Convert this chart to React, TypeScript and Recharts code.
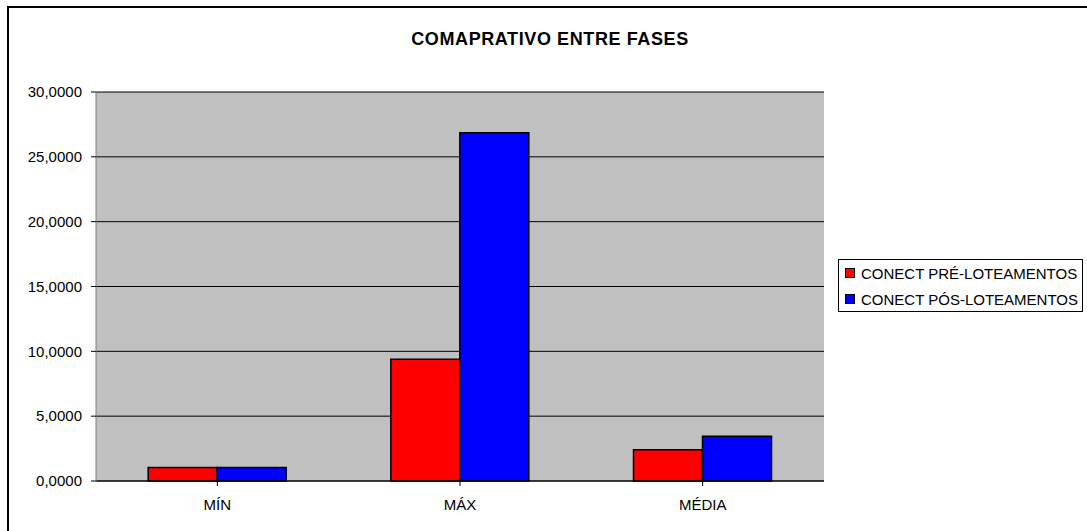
import { BarChart, Bar, XAxis, YAxis, CartesianGrid } from "recharts";

const categories = ["MÍN", "MÁX", "MÉDIA"];
const preLoteamentos = [1.05, 9.38, 2.41];
const posLoteamentos = [1.05, 26.86, 3.45];
const yTicks = [0, 5, 10, 15, 20, 25, 30];

const data = categories.map((c, i) => ({
  name: c,
  pre: preLoteamentos[i],
  pos: posLoteamentos[i],
}));

const FONT = "Arial, 'Liberation Sans', sans-serif";

const fmt = (v: number) => v.toFixed(4).replace(".", ",");

function LegendBox() {
  const items = [
    { label: "CONECT PRÉ-LOTEAMENTOS", color: "#FF0000" },
    { label: "CONECT PÓS-LOTEAMENTOS", color: "#0000FF" },
  ];
  return (
    <div
      style={{
        position: "absolute",
        left: 838,
        top: 259,
        width: 245,
        height: 53,
        border: "1px solid #000",
        boxSizing: "border-box",
        background: "#fff",
        fontFamily: FONT,
        fontSize: 15,
        color: "#000",
        paddingTop: 0,
      }}
    >
      {items.map((it) => (
        <div key={it.label} style={{ display: "flex", alignItems: "center", height: 26, paddingLeft: 6 }}>
          <span
            style={{
              display: "inline-block",
              width: 8,
              height: 8,
              background: it.color,
              border: "1px solid #000",
              marginRight: 6,
            }}
          />
          {it.label}
        </div>
      ))}
    </div>
  );
}

export default function App() {
  return (
    <div style={{ position: "absolute", left: 0, top: 0, width: 1087, height: 531, background: "#fff", overflow: "hidden" }}>
      <div
        style={{
          position: "absolute",
          left: 7,
          top: 6,
          width: 1100,
          height: 540,
          borderLeft: "2px solid #000",
          borderTop: "2px solid #000",
        }}
      />
      <div
        style={{
          position: "absolute",
          left: 0,
          top: 29,
          width: 1100,
          textAlign: "center",
          fontFamily: FONT,
          fontWeight: "bold",
          fontSize: 18,
          letterSpacing: 0.6,
          color: "#000",
        }}
      >
        COMAPRATIVO ENTRE FASES
      </div>
      <div style={{ position: "absolute", left: 0, top: 0 }}>
        <BarChart
          width={1087}
          height={531}
          data={data}
          margin={{ top: 92, right: 263, left: 0, bottom: 20 }}
          barCategoryGap="21.5%"
          barGap={0}
        >
          <CartesianGrid vertical={false} stroke="#000" strokeOpacity={1} fill="#C0C0C0" />
          <XAxis
            dataKey="name"
            axisLine={{ stroke: "#000" }}
            tickLine={{ stroke: "#000" }}
            tickSize={5}
            tick={{ fontFamily: FONT, fontSize: 15, fill: "#000", dy: 11 }}
          />
          <YAxis
            width={96}
            domain={[0, 30]}
            ticks={yTicks}
            tickFormatter={fmt}
            axisLine={{ stroke: "#808080" }}
            tickLine={{ stroke: "#000" }}
            tickSize={5}
            tick={{ fontFamily: FONT, fontSize: 15, fill: "#000", dx: -7 }}
          />
          <YAxis
            yAxisId="right"
            orientation="right"
            width={0}
            domain={[0, 30]}
            axisLine={{ stroke: "#808080" }}
            tick={false}
            tickLine={false}
          />
          <Bar dataKey="pre" fill="#FF0000" stroke="#000" strokeWidth={1.5} isAnimationActive={false} />
          <Bar dataKey="pos" fill="#0000FF" stroke="#000" strokeWidth={1.5} isAnimationActive={false} />
        </BarChart>
      </div>
      <LegendBox />
    </div>
  );
}
